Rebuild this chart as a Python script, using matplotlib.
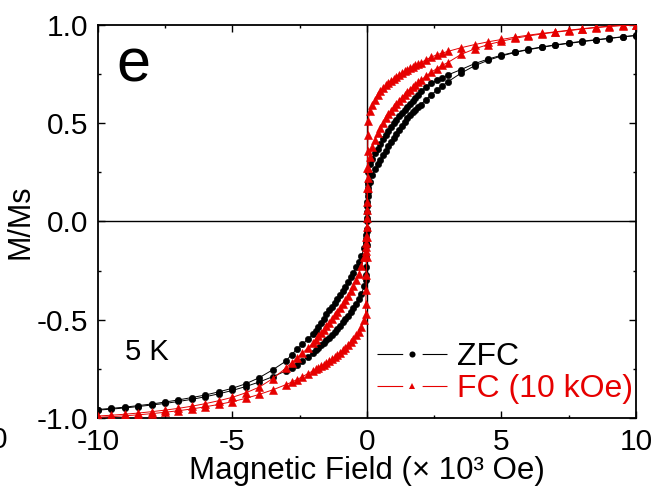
import matplotlib
matplotlib.use("Agg")
import matplotlib.pyplot as plt
from matplotlib.lines import Line2D

plt.rcParams['font.family'] = ['Liberation Sans', 'DejaVu Sans']
plt.rcParams['axes.unicode_minus'] = False
plt.rcParams['lines.scale_dashes'] = False

# field grid of one half sweep (x 10^3 Oe), from +10 down to +0.1
field_pos = [10.0, 9.5, 9.0, 8.5, 8.0, 7.5, 7.0, 6.5, 6.0, 5.5, 5.0, 4.5, 4.0, 3.5,
             3.0, 2.8, 2.6, 2.4, 2.2,
             2.0, 1.9, 1.8, 1.7, 1.6, 1.5, 1.4, 1.3, 1.2, 1.1,
             1.0, 0.9, 0.8, 0.7, 0.6, 0.5, 0.4, 0.3, 0.2, 0.1]
# points taken while crossing zero field
field_jump = [0.05, 0.04, 0.03, 0.02, 0.01, 0.0, -0.01, -0.02, -0.03, -0.04, -0.05]

# ZFC, descending branch (+10 -> 0 -> -10)
zfc_down_pos = [0.947, 0.940, 0.932, 0.925, 0.917, 0.908, 0.899, 0.888, 0.876, 0.862, 0.846, 0.826, 0.803, 0.773,
                0.745, 0.732, 0.718, 0.703, 0.685,
                0.663, 0.646, 0.630, 0.614, 0.599, 0.584, 0.568, 0.552, 0.535, 0.518,
                0.500, 0.481, 0.461, 0.440, 0.418, 0.395, 0.371, 0.346, 0.320, 0.290]
zfc_down_jump = [0.25, 0.20, 0.15, 0.10, 0.05, 0.00, -0.04, -0.07, -0.09, -0.105, -0.115]
zfc_down_neg = [-0.135, -0.175, -0.205, -0.234, -0.26, -0.285, -0.31, -0.332, -0.353, -0.373,
                -0.393, -0.413, -0.433, -0.453, -0.473, -0.494, -0.515, -0.535, -0.555, -0.575,
                -0.60, -0.626, -0.651, -0.677, -0.71,
                -0.755, -0.795, -0.826, -0.849, -0.867, -0.883, -0.896, -0.908, -0.919, -0.929, -0.937, -0.945, -0.951, -0.957]
# ZFC, ascending branch (-10 -> 0 -> +10)
zfc_up_neg = [-0.960, -0.955, -0.949, -0.942, -0.934, -0.926, -0.916, -0.905, -0.892, -0.877, -0.86, -0.84, -0.817, -0.79,
              -0.76, -0.745, -0.728, -0.71, -0.69,
              -0.668, -0.655, -0.643, -0.631, -0.618, -0.605, -0.591, -0.576, -0.561, -0.545,
              -0.53, -0.514, -0.497, -0.479, -0.46, -0.44, -0.418, -0.395, -0.368, -0.33]
zfc_up_jump = [-0.30, -0.27, -0.23, -0.18, -0.12, -0.05, 0.02, 0.08, 0.13, 0.17, 0.19]
zfc_up_pos = [0.20, 0.235, 0.265, 0.29, 0.313, 0.336, 0.36, 0.383, 0.405, 0.426,
              0.447, 0.467, 0.487, 0.507, 0.524, 0.54, 0.555, 0.569, 0.582, 0.595,
              0.62, 0.645, 0.668, 0.69, 0.71,
              0.755, 0.792, 0.82, 0.842, 0.86, 0.874, 0.886, 0.897, 0.906, 0.915, 0.923, 0.931, 0.939, 0.946]

# FC (10 kOe), descending branch
fc_down_pos = [1.000, 0.998, 0.994, 0.988, 0.981, 0.973, 0.965, 0.957, 0.948, 0.938, 0.926, 0.914, 0.900, 0.884,
               0.865, 0.857, 0.848, 0.837, 0.823,
               0.807, 0.800, 0.794, 0.787, 0.780, 0.772, 0.764, 0.756, 0.747, 0.737,
               0.727, 0.716, 0.705, 0.692, 0.678, 0.662, 0.643, 0.620, 0.594, 0.560]
fc_down_jump = [0.51, 0.44, 0.36, 0.27, 0.17, 0.06, -0.03, -0.08, -0.11, -0.13, -0.15]
fc_down_neg = [-0.18, -0.225, -0.265, -0.298, -0.328, -0.355, -0.38, -0.402, -0.422, -0.441,
               -0.46, -0.478, -0.497, -0.515, -0.533, -0.551, -0.568, -0.585, -0.601, -0.617,
               -0.645, -0.67, -0.695, -0.72, -0.745,
               -0.80, -0.843, -0.872, -0.895, -0.912, -0.927, -0.94, -0.951, -0.96, -0.968, -0.975, -0.981, -0.986, -0.99]
# FC (10 kOe), ascending branch
fc_up_neg = [-0.997, -0.993, -0.989, -0.984, -0.978, -0.971, -0.963, -0.954, -0.943, -0.931, -0.917, -0.90, -0.88, -0.857,
             -0.83, -0.818, -0.805, -0.79, -0.775,
             -0.76, -0.752, -0.745, -0.737, -0.728, -0.72, -0.711, -0.701, -0.691, -0.68,
             -0.668, -0.656, -0.643, -0.63, -0.615, -0.598, -0.58, -0.56, -0.535, -0.50]
fc_up_jump = [-0.47, -0.42, -0.35, -0.27, -0.18, -0.08, 0.02, 0.10, 0.17, 0.22, 0.27]
fc_up_pos = [0.33, 0.378, 0.417, 0.45, 0.478, 0.503, 0.525, 0.545, 0.564, 0.582,
             0.599, 0.615, 0.63, 0.645, 0.658, 0.671, 0.684, 0.696, 0.708, 0.718,
             0.74, 0.76, 0.778, 0.795, 0.808,
             0.85, 0.878, 0.90, 0.917, 0.932, 0.944, 0.954, 0.963, 0.971, 0.979, 0.986, 0.992, 0.997, 1.0]

labels = ["ZFC", "FC (10 kOe)"]
colors = ["black", "#e60000"]
markers = ["o", "^"]

# full sweeps
field_down = field_pos + field_jump + [-h for h in reversed(field_pos)]
field_up = list(reversed(field_down))
curves = [
    (zfc_down_pos + zfc_down_jump + zfc_down_neg, zfc_up_neg + zfc_up_jump + zfc_up_pos),
    (fc_down_pos + fc_down_jump + fc_down_neg, fc_up_neg + fc_up_jump + fc_up_pos),
]

fig = plt.figure(figsize=(6.56, 4.95), dpi=100)
ax = fig.add_axes([0.149, 0.1556, 0.8205, 0.794])

ax.axhline(0, color="black", lw=1.0, zorder=1)
ax.axvline(0, color="black", lw=1.0, zorder=1)

for (m_down, m_up), col, mk in zip(curves, colors, markers):
    ms = 4.6 if mk == "o" else 5.2
    ax.plot(field_down, m_down, color=col, lw=0.7, marker=mk, ms=ms, mew=0.4, zorder=3)
    ax.plot(field_up, m_up, color=col, lw=0.7, marker=mk, ms=ms, mew=0.4, zorder=3)

ax.set_xlim(-10, 10)
ax.set_ylim(-1.0, 1.0)
ax.set_xticks([-10, -5, 0, 5, 10])
ax.set_xticks([-7.5, -2.5, 2.5, 7.5], minor=True)
ax.set_yticks([-1.0, -0.5, 0.0, 0.5, 1.0])
ax.set_yticks([-0.75, -0.25, 0.25, 0.75], minor=True)
ax.set_yticklabels(["-1.0", "-0.5", "0.0", "0.5", "1.0"])
ax.tick_params(which="both", direction="in", top=True, right=True, labelsize=21.5, width=1.0)
ax.tick_params(which="major", length=5, pad=7)
ax.tick_params(which="minor", length=2.5)
for s in ax.spines.values():
    s.set_linewidth(1.3)

ax.set_xlabel("Magnetic Field (\u00d7 10\u00b3 Oe)", fontsize=22.5, labelpad=0)
ax.set_ylabel("M/Ms", fontsize=22, labelpad=1)

ax.text(0.035, 0.855, "e", transform=ax.transAxes, fontsize=44, va="baseline")
ax.text(0.05, 0.148, "5 K", transform=ax.transAxes, fontsize=21, va="baseline")

handles = []
for col, mk in zip(colors, markers):
    handles.append(Line2D([], [], color=col, lw=0.8, ls=(0, (18.5, 14)), marker=mk, ms=4.4, mew=0))
ax.legend(handles, labels, loc="lower right", bbox_to_anchor=(1.01, 0.015), frameon=False,
          fontsize=23, labelcolor=colors, handlelength=2.2, handletextpad=0.33,
          labelspacing=0.05, borderaxespad=0.05, borderpad=0.2, numpoints=1)

# clipped tick label of the neighbouring panel
fig.text(7 / 656, 0.094, "0", fontsize=21.5, ha="right", va="baseline")

fig.savefig("out.png", dpi=100)
